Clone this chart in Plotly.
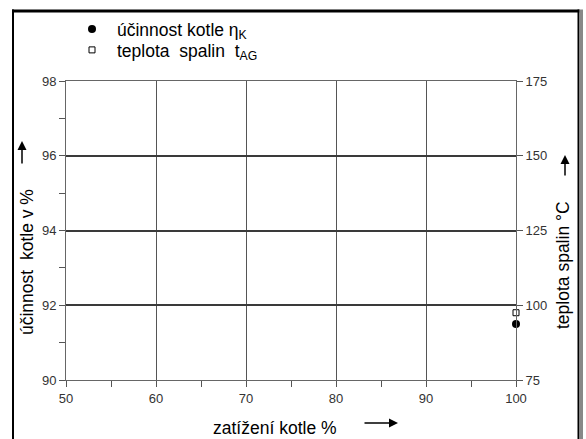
import plotly.graph_objects as go

# data
load_pct = [100]
efficiency = [91.5]          # účinnost kotle (left axis, %)
flue_temp = [97.5]           # teplota spalin (right axis, °C)

x_ticks = [50, 60, 70, 80, 90, 100]
y_ticks = [90, 92, 94, 96, 98]
y2_ticks = [75, 100, 125, 150, 175]

W, H = 586, 439
L, R, T, B = 66, 70, 81, 59
pw, ph = W - L - R, H - T - B

def px(x):
    return (x - L) / pw

def py(y):
    return (H - B - y) / ph

fig = go.Figure()
fig.add_trace(go.Scatter(
    x=load_pct, y=efficiency, mode="markers",
    name="účinnost kotle η<sub>K</sub>",
    marker=dict(symbol="circle", size=8, color="black"),
    cliponaxis=False, legend="legend",
))
fig.add_trace(go.Scatter(
    x=load_pct, y=flue_temp, mode="markers", yaxis="y2",
    name="teplota\u00a0\u00a0spalin\u00a0\u00a0t<sub>AG</sub>",
    marker=dict(symbol="square-open", size=6, color="black", line=dict(width=1)),
    cliponaxis=False, legend="legend2",
))

tickfont = dict(family="Liberation Sans, Arial", size=13, color="#333")
titlefont = dict(family="Liberation Sans, Arial", size=17.5, color="black")
legfont = dict(family="Liberation Sans, Arial", size=17.5, color="black")

fig.update_layout(
    width=W, height=H,
    margin=dict(l=L, r=R, t=T, b=B, autoexpand=False),
    paper_bgcolor="white", plot_bgcolor="white",
    showlegend=True,
    legend=dict(x=px(67), y=py(11), xanchor="left", yanchor="top", font=legfont,
                bgcolor="rgba(0,0,0,0)", itemwidth=40),
    legend2=dict(x=px(67), y=py(32), xanchor="left", yanchor="top", font=legfont,
                 bgcolor="rgba(0,0,0,0)", itemwidth=40),
    xaxis=dict(range=[50, 100], tickvals=x_ticks, ticks="outside", ticklen=6,
               tickcolor="#555", showgrid=True, gridcolor="#555", gridwidth=1,
               showline=True, linecolor="#666", mirror=True, zeroline=False,
               tickfont=tickfont,
               minor=dict(dtick=5, ticks="outside", ticklen=6, tickcolor="#555", showgrid=False)),
    yaxis=dict(range=[90, 98], tickvals=y_ticks, ticks="outside", ticklen=6,
               tickcolor="#555", showgrid=True, gridcolor="#3a3a3a", gridwidth=1.5,
               showline=True, linecolor="#666", mirror=True, zeroline=False,
               tickfont=tickfont,
               minor=dict(dtick=1, ticks="outside", ticklen=6, tickcolor="#555", showgrid=False)),
    yaxis2=dict(range=[75, 175], tickvals=y2_ticks, overlaying="y", side="right",
                ticks="outside", ticklen=6, tickcolor="#555", showgrid=False,
                showline=False, zeroline=False, tickfont=tickfont),
)

annots = [
    dict(text="účinnost\u00a0\u00a0kotle v %", x=px(27), y=py(262), textangle=-90),
    dict(text="teplota spalin °C", x=px(563), y=py(265), textangle=-90),
    dict(text="zatížení kotle %", x=px(275), y=py(428)),
]
for a in annots:
    fig.add_annotation(xref="paper", yref="paper", showarrow=False,
                       font=titlefont, xanchor="center", yanchor="middle", **a)

# arrows
for (hx, hy, ax, ay) in [(22, 141, 0, 24), (565, 155, 0, 22), (398, 423, -35, 0)]:
    fig.add_annotation(xref="paper", yref="paper", x=px(hx), y=py(hy),
                       ax=ax, ay=ay, text="", showarrow=True,
                       arrowhead=2, arrowsize=1.2, arrowwidth=1.5, arrowcolor="black")

# outer frame (filled thin rectangles)
frame = [
    (12, 9.5, 579.5, 12.5, "black"),   # top
    (12, 9.5, 14, 460, "black"),       # left
    (577.5, 9.5, 579.5, 460, "black"), # right (inner)
    (579.5, 9.5, 583, 460, "#888"),    # right (shadow)
]
for x0, y0, x1, y1, c in frame:
    fig.add_shape(type="rect", xref="paper", yref="paper",
                  x0=px(x0), x1=px(x1), y0=py(y1), y1=py(y0),
                  fillcolor=c, line=dict(width=0), layer="above")

fig.write_html("out.html", config={"displayModeBar": False},
               post_script="document.body.style.margin='0';document.body.style.overflow='hidden';")
